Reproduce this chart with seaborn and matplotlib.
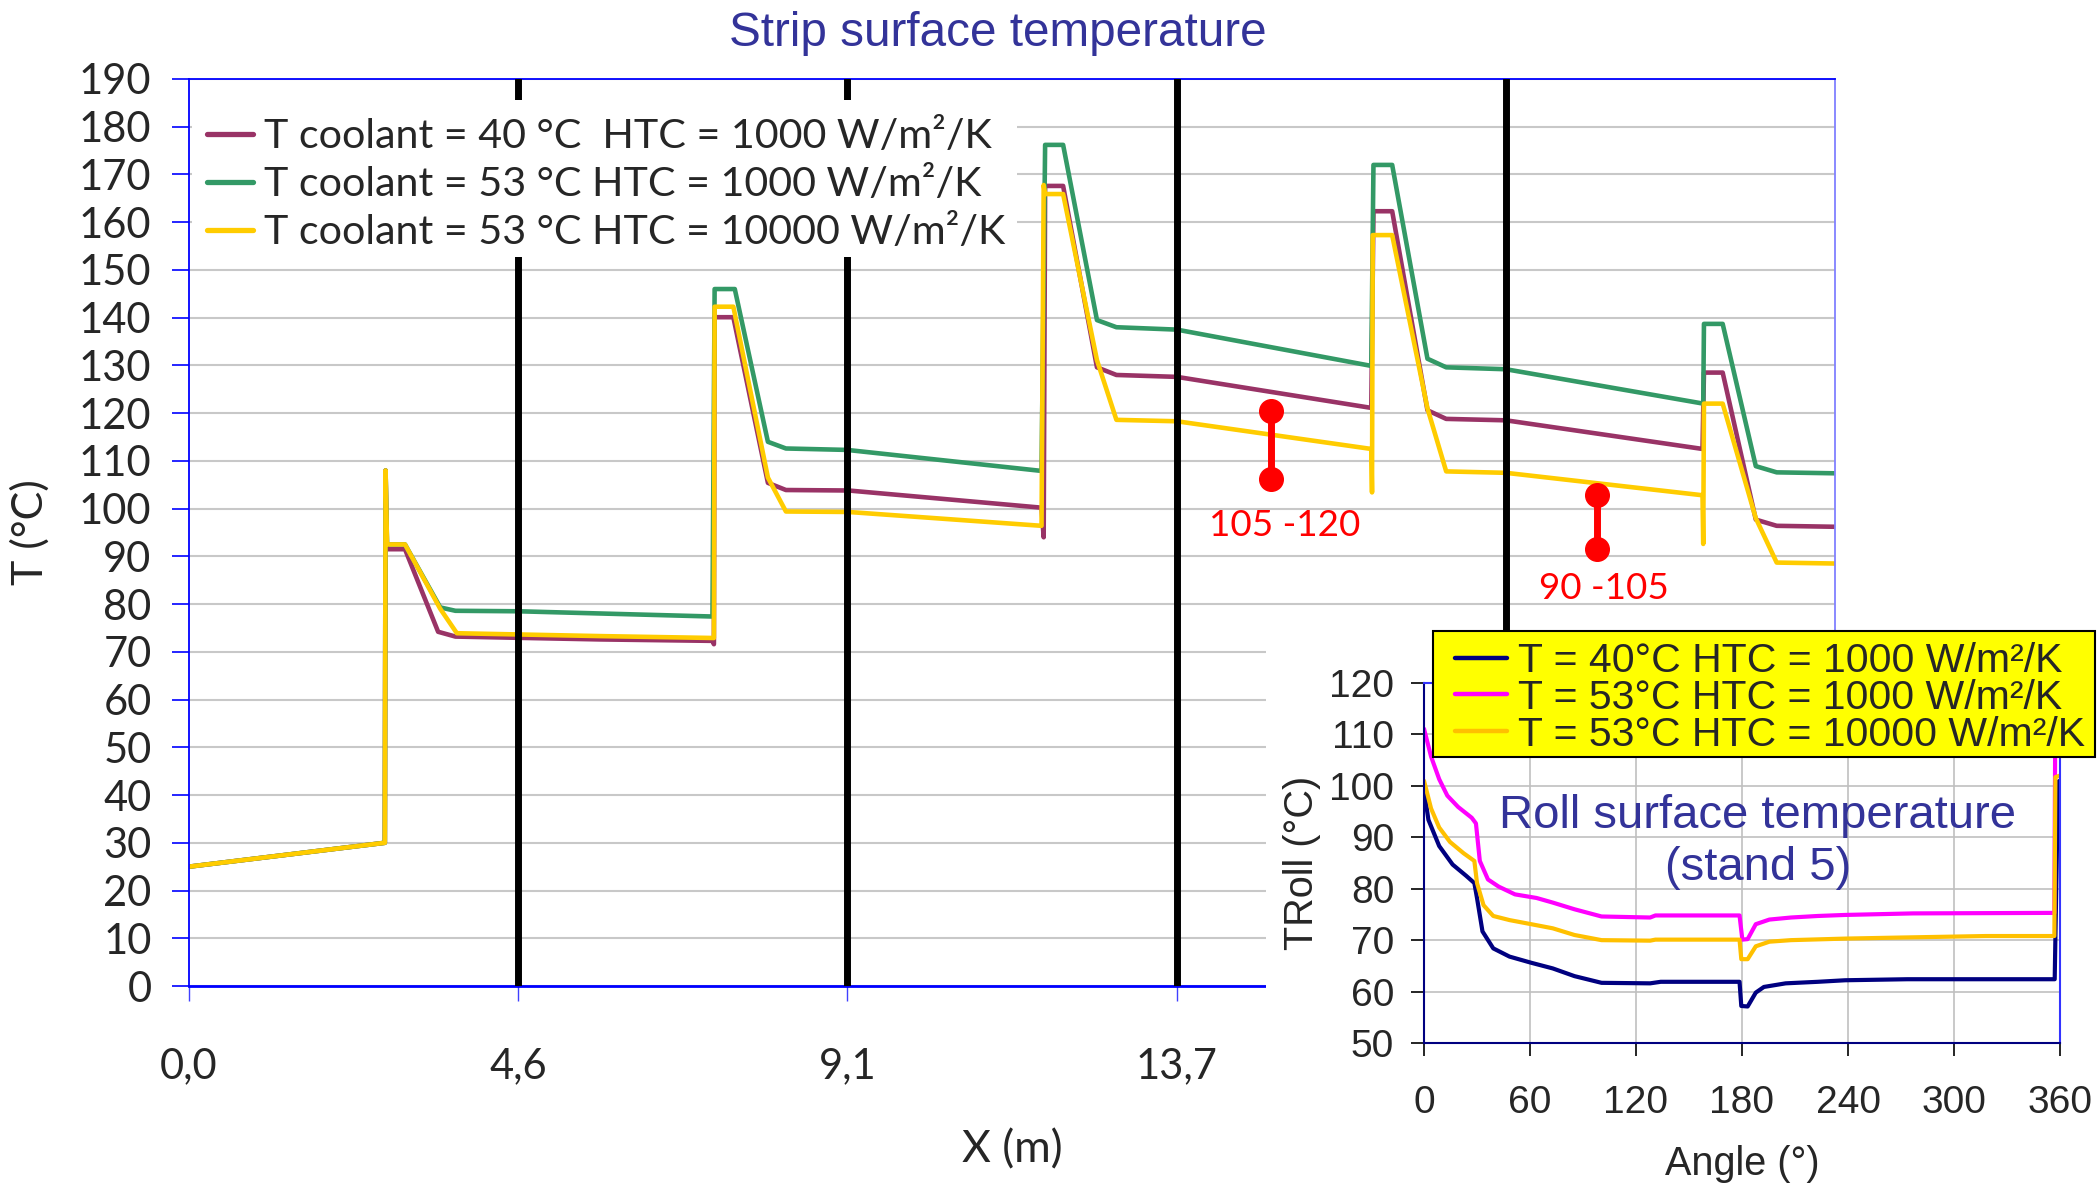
import matplotlib
matplotlib.use("Agg")
import matplotlib.pyplot as plt
from matplotlib.patches import Rectangle
from matplotlib.lines import Line2D
import pandas as pd
import seaborn as sns

# ---------------- data: strip surface temperature (distance in m, T in degC)
purple_x = [0, 2.72, 2.73, 2.75, 3.00, 3.46, 3.70, 5.71, 7.27, 7.29, 7.30, 7.56, 8.04, 8.29, 9.16,
            11.84, 11.87, 11.89, 12.14, 12.61, 12.88, 13.72, 16.42, 16.45, 16.71, 17.20, 17.46,
            18.29, 21.02, 21.04, 21.30, 21.76, 22.05, 22.86]
purple_t = [25, 30, 108, 91.5, 91.5, 74.2, 73.2, 72.6, 72.3, 71.6, 140.1, 140.1, 105.4, 103.9, 103.8,
            100.2, 94.0, 167.6, 167.6, 129.6, 128.0, 127.6, 121.1, 162.3, 162.3, 120.6, 118.8,
            118.5, 112.5, 128.5, 128.5, 97.7, 96.4, 96.2]

green_x = [0, 2.72, 2.73, 2.75, 3.00, 3.49, 3.70, 4.57, 7.27, 7.30, 7.58, 8.04, 8.29, 9.14,
           11.84, 11.89, 12.14, 12.61, 12.88, 13.72, 16.42, 16.45, 16.71, 17.20, 17.46, 18.29,
           21.03, 21.04, 21.30, 21.76, 22.05, 22.86]
green_t = [25, 30, 108, 92.5, 92.5, 79.3, 78.6, 78.5, 77.4, 146.0, 146.0, 114.0, 112.6, 112.3,
           107.9, 176.2, 176.2, 139.5, 138.0, 137.5, 129.9, 172.0, 172.0, 131.4, 129.6, 129.2,
           122.0, 138.7, 138.7, 108.9, 107.6, 107.4]

yellow_x = [0, 2.72, 2.73, 2.75, 3.00, 3.49, 3.72, 5.71, 7.29, 7.30, 7.56, 8.04, 8.29, 9.16,
            11.84, 11.87, 11.89, 12.14, 12.61, 12.88, 13.72, 16.42, 16.43, 16.44, 16.71, 17.20,
            17.46, 18.29, 21.02, 21.03, 21.04, 21.30, 21.76, 22.05, 22.86]
yellow_t = [25, 30, 108, 92.5, 92.5, 79.0, 73.9, 73.3, 72.9, 142.3, 142.3, 106.5, 99.4, 99.3,
            96.4, 167.8, 165.9, 165.9, 131.1, 118.6, 118.3, 112.5, 103.4, 157.3, 157.3, 121.0,
            107.8, 107.5, 102.8, 92.6, 122.0, 122.0, 98.0, 88.7, 88.5]

strip_labels = ["T coolant = 40 °C  HTC = 1000 W/m²/K",
                "T coolant = 53 °C HTC = 1000 W/m²/K",
                "T coolant = 53 °C HTC = 10000 W/m²/K"]
strip_colors = ["#993366", "#339966", "#FFCC00"]

stand_x = [4.572, 9.144, 13.716, 18.288]
x_ticks = [0, 4.572, 9.144, 13.716, 18.288, 22.86]
x_ticklabels = ["0,0", "4,6", "9,1", "13,7", "18,3", "22,9"]

# red range markers
range1_x = [15.03, 15.03]
range1_t = [106.2, 120.4]
range1_label = "105 -120"
range2_x = [19.56, 19.56]
range2_t = [91.5, 102.8]
range2_label = "90 -105"

# ---------------- data: roll surface temperature (angle deg, T degC)
navy_a = [0, 2.5, 8.6, 16.2, 23.9, 28.5, 30.0, 33.1, 39.2, 48.4, 60.7, 72.9, 85.2, 100.5, 128.0,
          134.0, 178.6, 179.6, 183.2, 187.8, 192.4, 204.7, 223.0, 238.4, 273.6, 357.0, 358.9, 360]
navy_t = [99.2, 93.4, 88.3, 84.7, 82.5, 81.1, 78.2, 71.7, 68.4, 66.8, 65.6, 64.5, 63.0, 61.7, 61.6,
          61.9, 61.9, 57.2, 57.1, 59.8, 60.9, 61.6, 61.9, 62.2, 62.4, 62.4, 100.8, 101.0]

magenta_a = [0, 4.0, 8.6, 13.2, 19.3, 27.0, 29.4, 31.6, 36.2, 42.3, 51.5, 63.7, 72.9, 85.2, 100.5,
             128.0, 131.0, 178.6, 180.2, 183.2, 187.8, 195.5, 207.7, 223.0, 238.4, 276.7, 356.8,
             357.3, 360]
magenta_t = [111.1, 105.7, 101.3, 98.1, 95.9, 93.8, 92.7, 85.4, 81.8, 80.4, 78.9, 78.2, 77.3, 76.0,
             74.6, 74.4, 74.8, 74.8, 70.1, 70.2, 73.1, 74.0, 74.4, 74.7, 74.9, 75.2, 75.3,
             111.0, 111.0]

gold_a = [0, 4.0, 8.6, 14.7, 22.4, 28.5, 30.0, 33.7, 39.2, 48.4, 60.7, 72.9, 85.2, 100.5, 128.0,
          131.0, 178.6, 179.6, 183.2, 187.8, 195.5, 207.7, 238.4, 269.0, 318.0, 356.8, 357.4, 360]
gold_t = [101.0, 95.6, 91.9, 89.1, 86.9, 85.4, 81.1, 76.8, 74.7, 73.9, 73.1, 72.3, 71.0, 70.0, 69.9,
          70.1, 70.1, 66.3, 66.3, 68.8, 69.7, 70.0, 70.3, 70.5, 70.8, 70.8, 101.7, 102.0]

roll_labels = ["T = 40°C HTC = 1000 W/m²/K",
               "T = 53°C HTC = 1000 W/m²/K",
               "T = 53°C HTC = 10000 W/m²/K"]
roll_colors = ["#000080", "#FF00FF", "#FFC000"]

# ---------------- frames
strip = pd.concat([
    pd.DataFrame({"x": purple_x, "T": purple_t, "case": strip_labels[0]}),
    pd.DataFrame({"x": green_x, "T": green_t, "case": strip_labels[1]}),
    pd.DataFrame({"x": yellow_x, "T": yellow_t, "case": strip_labels[2]}),
], ignore_index=True)
roll = pd.concat([
    pd.DataFrame({"a": navy_a, "T": navy_t, "case": roll_labels[0]}),
    pd.DataFrame({"a": magenta_a, "T": magenta_t, "case": roll_labels[1]}),
    pd.DataFrame({"a": gold_a, "T": gold_t, "case": roll_labels[2]}),
], ignore_index=True)

sns.set_style("white")
plt.rcParams["font.family"] = ["Lato", "DejaVu Sans"]
ARIAL = ["Liberation Sans", "DejaVu Sans"]

W, H = 2098, 1184
fig = plt.figure(figsize=(W / 100, H / 100), dpi=100)
fig.patch.set_facecolor("white")

def fx(px):
    return px / W

def fy(py):
    return 1 - py / H

# ---------------- main chart
ax = fig.add_axes([fx(189), fy(986), fx(1835 - 189), (986 - 79) / H], zorder=0)
sns.lineplot(data=strip, x="x", y="T", hue="case", palette=strip_colors,
             hue_order=strip_labels, sort=False, estimator=None, lw=3.3,
             legend=False, ax=ax)
ax.set_xlim(0, 22.86)
ax.set_ylim(0, 190)
ax.set_xticks(x_ticks)
ax.set_xticklabels(x_ticklabels)
ax.set_yticks(range(0, 191, 10))
ax.yaxis.grid(True, color="#c8c8c8", lw=1.5)
ax.xaxis.grid(False)
ax.set_axisbelow(True)
for xv in stand_x:
    ax.axvline(xv, color="black", lw=5, zorder=3)

for s in ["left", "bottom", "top"]:
    ax.spines[s].set_color("#0000FF")
    ax.spines[s].set_linewidth(1.3)
ax.spines["bottom"].set_linewidth(2)
ax.spines["right"].set_color("#8080FF")
ax.spines["right"].set_linewidth(1.3)

ax.tick_params(axis="y", left=True, direction="out", length=12, width=1.2,
               color="#0000FF", pad=15, labelsize=30)
ax.tick_params(axis="x", bottom=True, direction="out", length=11, width=1,
               color="#4040FF", pad=33, labelsize=30)
ax.set_xlabel("X (m)", fontsize=32, labelpad=32)
ax.set_ylabel("T (°C)", fontsize=31, labelpad=21)

# red ranges
for rx, rt, lab, (tx, ty) in [(range1_x, range1_t, range1_label, (15.22, 96.4)),
                              (range2_x, range2_t, range2_label, (19.65, 83.2))]:
    ax.plot(rx, rt, color="red", lw=5, marker="o", ms=17, zorder=4)
    ax.text(tx, ty, lab, color="red", fontsize=26.5, ha="center", va="center", zorder=4)

# main legend on white box
ax.add_artist(Rectangle((fx(192), fy(257)), fx(1017 - 192), (257 - 100) / H,
                        transform=fig.transFigure, facecolor="white", edgecolor="none",
                        zorder=6, clip_on=False))
h1 = [Line2D([], [], color=c, lw=3.8) for c in strip_colors]
leg = ax.legend(h1, strip_labels, loc="upper left", bbox_to_anchor=(fx(207), fy(118)),
                bbox_transform=fig.transFigure, frameon=False, borderpad=0,
                borderaxespad=0, handlelength=1.12, handletextpad=0.26,
                labelspacing=0.27, fontsize=29.7)
leg.set_zorder(7)

fig.text(fx(998), fy(33), "Strip surface temperature", color="#333399", fontsize=34.3,
         family=ARIAL, ha="center", va="center")

# ---------------- inset (white background covering the main chart)
fig.add_artist(Rectangle((fx(1266), 0), 1 - fx(1266), fy(630), transform=fig.transFigure,
                         facecolor="white", edgecolor="none", zorder=1))
ax2 = fig.add_axes([fx(1424), fy(1043), fx(2060 - 1424), (1043 - 683) / H], zorder=2)
ax2.set_facecolor("white")
sns.lineplot(data=roll, x="a", y="T", hue="case", palette=roll_colors, hue_order=roll_labels,
             sort=False, estimator=None, lw=3.0, legend=False, ax=ax2)
ax2.set_xlim(0, 360)
ax2.set_ylim(50, 120)
ax2.set_xticks(range(0, 361, 60))
ax2.set_yticks(range(50, 121, 10))
ax2.grid(True, color="#c0c0c0", lw=1.2)
ax2.set_axisbelow(True)
for s in ["left", "bottom"]:
    ax2.spines[s].set_color("#000080")
    ax2.spines[s].set_linewidth(1.5)
for s in ["top", "right"]:
    ax2.spines[s].set_color("#3333FF")
    ax2.spines[s].set_linewidth(1.5)
ax2.tick_params(axis="both", direction="out", length=9.5, width=1.2, color="black",
                labelsize=28, left=True, bottom=True)
ax2.tick_params(axis="y", pad=12)
ax2.tick_params(axis="x", pad=21)
for lbl in ax2.get_xticklabels() + ax2.get_yticklabels():
    lbl.set_family(ARIAL)
ax2.set_xlabel("Angle (°)", fontsize=28.5, family=ARIAL, labelpad=17)
ax2.set_ylabel("TRoll (°C)", fontsize=28.5, family=ARIAL, labelpad=6)

ax2.text(fx(1758), fy(842), "Roll surface temperature\n(stand 5)", transform=fig.transFigure,
         color="#333399", fontsize=34, family=ARIAL, ha="center", va="center",
         linespacing=1.25, zorder=3)

ax2.add_artist(Rectangle((fx(1433), fy(757)), fx(2095 - 1433), (757 - 631) / H,
                         transform=fig.transFigure, facecolor="#FFFF00", edgecolor="black",
                         lw=1.5, zorder=6, clip_on=False))
h2 = [Line2D([], [], color=c, lw=3.2) for c in roll_colors]
leg2 = ax2.legend(h2, roll_labels, loc="upper left", bbox_to_anchor=(fx(1455), fy(642)),
                  bbox_transform=fig.transFigure, frameon=False, borderpad=0,
                  borderaxespad=0, handlelength=1.28, handletextpad=0.25,
                  labelspacing=-0.03, prop={"family": ARIAL, "size": 29.5})
leg2.set_zorder(7)

fig.savefig("out.png", dpi=100, facecolor="white")
